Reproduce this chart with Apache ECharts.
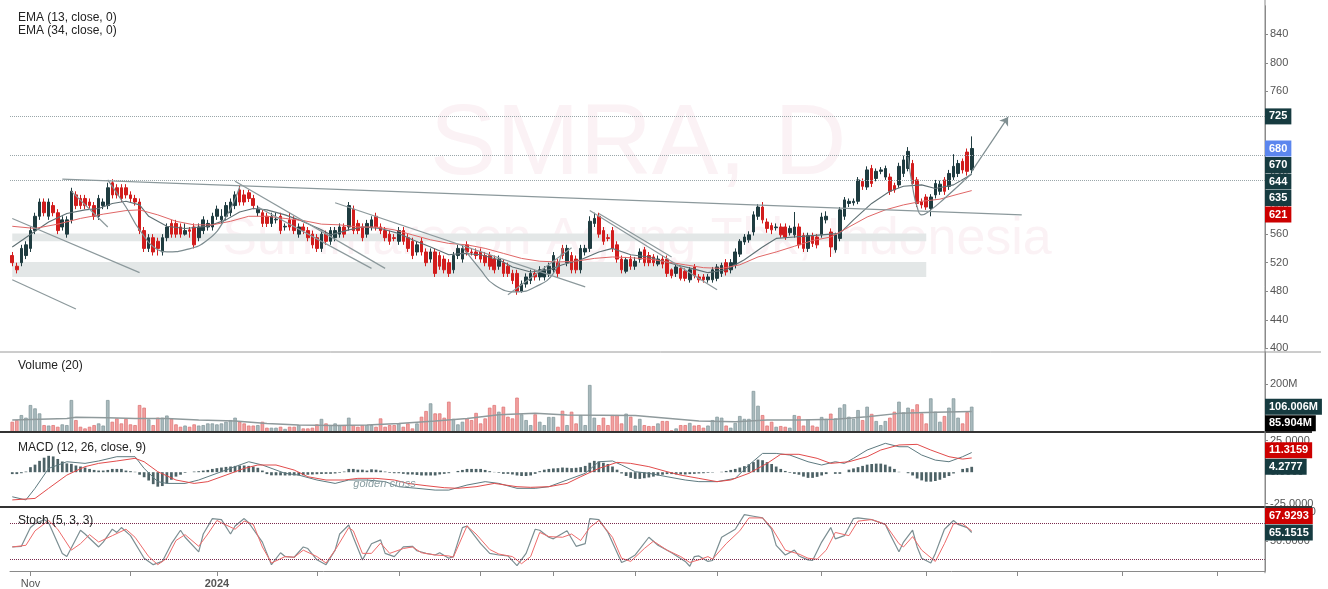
<!DOCTYPE html>
<html><head><meta charset="utf-8">
<script src="https://cdn.jsdelivr.net/npm/echarts@6.0.0/dist/echarts.min.js"></script>
<style>html,body{margin:0;padding:0;background:#fff}#c{width:1328px;height:589px}</style>
</head><body><div id="c"></div>
<script>
// ---------- DATA ----------
// daily candles: [open, close, low, high]
const candles = [
[530,520,515,535],[515,510,505,520],[520,540,515,545],[530,545,525,550],[540,565,535,570],
[565,585,560,590],[585,605,580,610],[605,590,585,610],[585,605,580,610],[600,590,585,605],
[590,565,560,595],[570,580,565,585],[560,580,555,585],[580,620,575,625],[615,600,595,620],
[610,600,595,615],[610,600,595,615],[605,600,595,610],[600,585,580,605],[585,610,580,615],
[600,605,595,610],[600,625,595,632],[632,615,610,637],[625,615,610,630],[625,610,605,630],
[625,615,610,630],[615,610,605,620],[610,605,600,615],[605,565,560,610],[565,540,535,570],
[540,555,535,560],[555,535,530,560],[550,540,530,555],[535,555,530,560],[555,570,550,575],
[575,560,555,580],[575,560,555,580],[570,560,555,575],[560,565,558,575],[566,564,555,570],
[570,545,540,575],[555,570,550,575],[565,580,560,585],[570,575,565,580],[570,585,565,590],
[585,595,580,600],[580,585,575,595],[585,600,580,605],[590,605,585,610],[600,615,595,620],
[622,605,600,628],[615,605,600,622],[618,610,605,622],[610,600,595,615],[590,595,585,600],
[590,575,570,595],[585,575,570,590],[575,585,570,590],[580,581,575,590],[585,565,560,590],
[570,571,565,575],[580,570,565,590],[580,565,560,585],[560,570,555,575],[570,565,560,575],
[565,555,550,570],[560,545,540,565],[555,540,535,560],[540,560,535,565],[560,550,545,565],
[550,565,545,570],[555,565,550,570],[560,570,555,575],[570,560,555,575],[570,600,565,605],
[595,565,560,600],[575,565,560,580],[570,555,550,575],[560,575,555,580],[570,580,565,585],
[585,570,565,590],[570,565,560,575],[565,555,550,570],[560,550,545,565],[555,554,550,560],
[550,565,545,570],[565,550,545,570],[555,540,535,560],[550,530,525,555],[535,545,530,550],
[550,535,530,555],[535,520,515,540],[525,535,520,540],[535,505,500,540],[530,515,510,535],
[525,510,505,530],[520,505,500,525],[510,530,505,535],[530,540,525,545],[525,540,520,545],
[545,535,530,550],[535,534,530,540],[535,530,525,540],[535,525,520,540],[530,520,515,535],
[530,515,510,535],[525,510,505,530],[515,525,510,530],[520,505,500,525],[515,505,500,520],
[505,495,490,510],[505,480,475,510],[480,490,478,495],[490,500,485,505],[495,505,490,510],
[505,500,495,510],[500,510,495,515],[500,510,495,515],[505,515,500,520],[510,530,505,535],
[520,505,500,525],[540,530,525,545],[520,540,515,545],[530,510,505,535],[525,510,505,530],
[510,540,505,545],[535,540,530,545],[540,578,535,585],[575,582,570,590],[585,560,555,590],
[565,550,545,570],[555,554,550,560],[565,540,535,570],[545,525,520,550],[525,510,505,530],
[508,524,505,528],[525,515,510,530],[515,522,510,528],[525,535,520,540],[538,520,515,542],
[530,520,515,535],[528,520,515,532],[518,525,515,530],[525,518,512,530],[525,505,500,530],
[510,502,498,512],[505,514,500,518],[512,498,495,515],[508,498,494,512],[496,510,492,514],
[514,502,498,518],[500,496,492,504],[500,496,492,504],[496,500,492,504],[496,510,492,514],
[498,514,494,518],[505,516,500,520],[520,507,502,525],[510,520,505,525],[517,535,512,540],
[532,550,528,553],[549,556,545,560],[552,559,548,564],[563,587,558,592],[585,598,580,602],
[598,580,575,605],[577,568,562,582],[572,566,560,576],[569,570,565,575],[570,559,555,575],
[570,556,552,575],[562,568,558,572],[559,570,555,591],[570,545,540,575],[558,540,535,562],
[540,558,535,562],[558,547,542,562],[556,545,540,560],[559,584,555,590],[580,585,575,592],
[563,542,528,568],[538,559,534,562],[554,594,550,598],[585,608,580,612],[603,606,598,610],
[604,606,600,610],[606,636,602,640],[634,627,622,638],[626,650,622,655],[652,631,626,657],
[638,648,634,652],[648,650,644,654],[640,652,636,656],[640,620,615,645],[628,622,618,632],
[629,655,625,660],[645,664,640,670],[652,676,648,682],[659,631,625,664],[636,603,598,640],
[605,601,596,610],[612,598,594,616],[596,612,585,616],[615,631,610,636],[620,630,615,635],
[636,620,615,640],[627,645,622,650],[640,655,636,672],[645,659,640,664],[662,650,645,666],
[675,648,642,680],[650,680,645,697]
];
// volume in millions
const volumes = [
43,50,71,60,113,99,78,29,27,29, 22,32,29,134,50,22,15,22,29,36,
27,134,43,57,36,55,32,29,113,102, 53,29,60,60,69,55,32,22,27,22,
32,27,29,36,36,32,36,43,50,60, 43,36,27,27,29,43,18,18,18,22,
13,22,22,29,15,15,18,32,55,36, 29,36,29,29,60,29,22,29,29,29,
22,57,22,29,29,36,22,36,15,36, 64,88,120,78,78,60,127,55,32,43,
57,50,80,36,57,102,113,85,
106,64,57,144,74,50,29,74,43,29, 63,63,22,89,29,85,36,71,29,197,
60,29,60,29,71,71,36,77,64,27, 55,29,25,25,36,46,46,7,15,29,
29,38,27,29,18,27,50,64,60,27, 18,38,67,55,55,172,110,71,27,43,
22,25,22,18,71,67,27,53,27,22, 63,55,77,57,102,116,64,55,92,50,
106,76,46,29,46,60,85,127,82,102, 95,116,78,36,141,85,43,67,102,141,
60,36,83,106.006
];
// [barIndex, value] points
const ema13 = [[0,542],[5,564],[8,577],[12,589],[16,594],[19,596],[22,603],[25,606],[28,601],[30,585],[34,571],[38,568],[43,571],[47,580],[50,591],[53,596],[56,594],[60,587],[63,580],[68,566],[70,559],[74,566],[77,570],[81,568],[85,561],[88,552],[92,542],[96,531],[99,533],[103,531],[107,524],[110,514],[114,507],[118,510],[121,517],[125,524],[129,535],[132,540],[136,531],[140,528],[142,524],[146,517],[150,511],[153,506],[157,510],[161,524],[165,542],[168,554],[172,556],[178,559],[182,561],[185,580],[189,603],[193,620],[196,627],[200,629],[203,624],[207,629],[211,644]];
const ema34 = [[0,571],[5,568],[10,574],[15,582],[20,588],[25,593],[28,594],[32,587],[36,578],[40,573],[44,573],[48,578],[52,585],[56,585],[60,582],[64,579],[68,574],[72,573],[76,570],[80,570],[84,566],[88,559],[92,552],[96,547],[100,545],[104,540],[108,533],[112,526],[116,522],[120,521],[124,522],[128,526],[132,528],[136,527],[140,525],[144,521],[148,517],[152,513],[156,512],[160,517],[164,528],[168,535],[172,543],[176,551],[180,556],[184,570],[188,584],[192,594],[196,601],[200,606],[204,609],[208,616],[211,621]];
const volMA = [[0,50],[12,57],[14,62],[21,60],[27,57],[34,57],[41,50],[49,46],[56,36],[63,29],[71,27],[78,29],[85,36],[93,46],[100,57],[107,72],[115,78],[122,71],[137,69],[151,46],[159,43],[166,50],[173,50],[181,53],[188,64],[195,78],[203,83],[211,85.904]];
const macdLine = [[0,-19.5],[3,-22],[5,-12.8],[8,3],[12,8.3],[16,7],[19,8.9],[23,12.3],[27,12.3],[29,3],[32,-7.5],[34,-8.9],[38,-8.9],[41,-6.2],[45,-0.9],[49,4.4],[52,8.3],[55,5.7],[60,-0.9],[63,-2.3],[67,-6.2],[71,-8.9],[74,-6.2],[78,-6.2],[82,-7.5],[85,-11.5],[89,-12.8],[93,-14.2],[96,-14.2],[100,-10.2],[104,-7.5],[107,-8.9],[111,-12.8],[115,-12.8],[118,-11.5],[122,-6.2],[126,-0.9],[129,8.3],[132,8.9],[134,5.7],[137,0.4],[140,-0.9],[144,-3.6],[148,-6.2],[151,-7.5],[155,-7.5],[159,-4.9],[162,5.7],[165,14.9],[168,14.9],[171,13.6],[175,8.3],[178,5.7],[181,8.3],[183,7],[185,11],[188,17.6],[192,22.9],[195,20.2],[197,20.2],[200,13.6],[203,9.6],[206,8.3],[209,12.3],[211,15.6]];
const macdSignal = [[0,-22],[5,-20.8],[8,-12.8],[12,-2.3],[16,4.4],[19,7],[23,8.9],[27,11],[29,8.3],[32,0.4],[36,-6.2],[40,-8.9],[43,-7.5],[47,-2.3],[51,3],[54,5.7],[58,5.7],[62,1.7],[65,-3.6],[69,-6.2],[73,-6.2],[76,-4.9],[80,-4.9],[84,-6.2],[87,-8.9],[91,-10.7],[95,-12.3],[98,-12.8],[102,-11.5],[106,-8.9],[111,-11.5],[114,-12],[118,-11.5],[122,-8.9],[125,-3.6],[129,3],[133,7.8],[136,7],[140,4.4],[144,0.4],[147,-2.3],[151,-4.9],[155,-7.5],[158,-6.2],[162,-0.9],[166,7],[169,14.2],[173,14.2],[177,11],[180,7],[184,8.3],[188,12.3],[191,17.6],[195,21.6],[199,22.1],[202,17.6],[206,12.3],[209,10.4],[211,11.3159]];
const macdHist = [
-1.5,-1.5,-0.8,0.5,4,6,9,11.5,13,12.5, 10.5,8.5,7,6.6,5.3,4.5,3.7,2.6,1.8,1.3,
1.3,1.8,2.6,2.6,2.6,1.3,0.8,0.3,-2,-4, -6.6,-9.5,-11.5,-11,-9,-6,-3.5,-2,-0.5,0,
0.5,0.8,1.3,1.8,2.6,3.2,3.7,4.2,4.5,5, 5.3,5.3,5,4.5,3.5,1.3,-1.5,-2.5,-2.5,-2.5,
-2.6,-2.6,-2.6,-2.6,-2.4,-2,-1.8,-1.6,-1.4,-1.3, -1.3,-1,-0.5,0.5,2.6,2.6,2,2,1.3,2.3,
2,1.3,0.5,-0.5,-0.8,-0.8,-1.3,-1.8,-1.8,-2.2, -2.6,-2.6,-2.6,-2.6,-1.8,-1.3,-0.8,0,1,1.8,
2.6,2.6,2.6,2.6,1.8,0.8,0.2,-0.5,-1.3,-1.3, -1.8,-2.6,-3,-3,-2.6,-1.3,0.8,2,2.6,3,
3.2,3.7,3.5,3.2,3.5,4,5,7.5,9,8.5, 7.5,6.5,4.5,2,-1,-3,-4.5,-5.3,-5.3,-4.8,
-4.2,-3.5,-2.6,-2,-1.5,-1.5,-1.8,-1.8,-1.8,-1.5, -1.3,-1,-0.8,-0.5,-0.3,0,0.3,1,1.8,2.6,
3.7,4.8,6.3,8,10,9.5,8,6.5,4.5,2.6, 1,-0.5,-1.3,-2,-3.5,-4.5,-4.5,-3.7,-2.6,-1.5,
0,-1.3,-1.3,0,2,3,4,5,6,6.5, 6.8,6.8,6,4.5,2.6,0.3,0,-0.8,-2.6,-5,
-6.5,-7.5,-7.5,-7,-6,-4.5,-3,-1,0,2.6, 3.2,4.2777
];
const stochK = [[0,40.7],[2,41.8],[4,73.5],[5,80],[7,87],[8,81.6],[11,29.8],[12,24.4],[15,69],[16,62.6],[19,40.7],[20,49],[22,70.7],[23,65.3],[24,73.5],[26,59.8],[29,21.6],[31,10.7],[33,16.2],[35,46.2],[37,69],[38,57.1],[41,32.5],[42,62.6],[44,88.7],[46,87],[48,62.6],[49,76.2],[51,88.7],[52,81.6],[55,48.9],[57,10.7],[59,30.9],[60,24.4],[62,23.3],[64,40.7],[65,38],[67,18.9],[69,10.7],[71,35.3],[72,62.6],[74,77.8],[75,57.1],[77,18.9],[79,46.2],[81,52.7],[82,29.8],[84,24.4],[86,40.7],[88,41.8],[89,34.2],[91,29.8],[93,27.1],[94,30.9],[96,21.6],[97,24.4],[99,73.5],[100,76.2],[103,46.2],[105,29.8],[107,27.1],[109,25.5],[111,9.1],[113,29.8],[115,70.7],[116,69],[118,57.1],[119,54.4],[122,68],[124,41.8],[126,46.2],[127,88.7],[129,87],[131,65.3],[134,14.5],[135,17.8],[137,27.1],[140,57.1],[142,43.5],[145,30.9],[148,16.2],[149,8],[150,24.4],[151,25.5],[153,16.2],[154,17.8],[156,57.1],[159,70.7],[161,95.3],[163,92.6],[165,89.8],[167,70.7],[168,43.5],[170,27.1],[172,35.3],[173,25.5],[175,18.9],[176,17.8],[178,48.9],[180,73.5],[181,54.4],[183,59.8],[185,88.7],[186,89.8],[189,87],[192,78.9],[193,62.6],[195,32.5],[196,48.9],[198,69],[199,40.7],[200,21.6],[202,13.5],[203,29.8],[205,70.7],[207,85.5],[208,78.9],[210,73.5],[211,65.1515]];
const stochD = [[0,40.7],[3,43.5],[5,68],[8,85.5],[10,70.7],[13,35.3],[15,46.2],[17,61.5],[19,49],[22,59.8],[25,70.7],[27,57.1],[30,24.4],[32,10.7],[34,21.6],[36,51.6],[38,61.5],[41,41.8],[43,62.6],[45,85.5],[46,81.6],[49,70.7],[51,84.4],[53,78.9],[55,40.7],[57,13.5],[60,24.4],[62,23.3],[64,35.3],[67,24.4],[69,13.5],[71,35.3],[74,73.5],[75,68],[77,29.8],[79,29.8],[81,47.3],[83,29.8],[86,38],[88,40.7],[90,30.9],[93,27.1],[96,25.5],[97,23.3],[100,76.2],[102,62.6],[105,36.4],[107,28.7],[110,24.4],[112,12.4],[114,24.4],[116,65.3],[118,58.2],[121,57.1],[123,62.6],[125,51.6],[127,73.5],[129,85.5],[132,57.1],[134,21.6],[136,16.2],[139,38],[141,50.5],[144,35.3],[147,24.4],[149,14.5],[151,18.9],[153,24.4],[154,20],[157,46.2],[160,68],[162,89.8],[165,89.8],[167,73.5],[170,35.3],[173,28.7],[175,21.6],[177,20],[179,35.3],[181,65.3],[184,59.8],[186,84.4],[189,87],[192,78.9],[195,46.2],[196,40.7],[198,58.2],[200,35.3],[203,16.2],[205,46.2],[207,80],[209,80],[211,67.9293]];
// chart drawings, in [barIndex, price]
const trendLines = [
  [[11,637],[222,587]], [[0,582],[28,506]], [[0,496],[14,455]], [[13,620],[21,570]],
  [[49,634],[82,512]], [[54,598],[79,512]], [[71,604],[126,486]], [[109,475],[123,541]],
  [[127,593],[155,482]], [[129,589],[145,528]]
];
const arrowLine = [[211,648],[219,724]];
const arcs = [
  [[21,636],[25,598],[28,566],[32,538],[34,535],[38,538],[43,552],[47,584],[50,626]],
  [[99,542],[103,510],[106,489],[111,479],[115,486],[119,505],[121,540]],
  [[197,668],[198,626],[199,598],[200,587],[202,594],[205,610],[211,645]]
];
const zones = [[0,201,550,561],[0,201,500,521]]; // [fromBar, toBar, low, high]
const levels = [725,670,635];
const stochLevels = [80,20];
// time axis
const SLOTS = 276;
const categories = Array.from({length:SLOTS},(_,i)=>String(i));
const monthTicks = [4,26,45,67,85,103,119,137,155,178,201,221,244,265];
const monthLabels = {4:'Nov',45:'2024'};
const yearLabels = ['2024'];

// ---------- CHART ----------
const FONT = '"Liberation Sans", Arial, sans-serif';
const BULL = '#1f3c40', BEAR = '#d21d1d';
const AX = '#8a8a8a', LBL = '#555';
const grids = [
  {left:10,right:63,top:5.8,height:342.5},
  {left:10,right:63,top:352,height:80},
  {left:10,right:63,top:432,height:71.7},
  {left:10,right:63,top:507,height:66.2}
];
const chart = echarts.init(document.getElementById('c'));
const isUp = i => candles[i][1] >= candles[i][0];
const volData = volumes.map((v,i)=>({value:v,itemStyle: isUp(i)?{color:'#a9babd',borderColor:'#869a9e',borderWidth:0.8}:{color:'#f2a0a0',borderColor:'#e07878',borderWidth:0.8}}));

function yAx(k, o){
  return Object.assign({type:'value',gridIndex:k,position:'right',
    axisLine:{show:true,lineStyle:{color:AX}},axisTick:{show:true,length:3,lineStyle:{color:AX}},
    splitLine:{show:false}}, o);
}
const lbl = (o)=>Object.assign({color:LBL,fontSize:11,fontFamily:FONT,margin:5},o);

const lineS = (xi, data, color, w, extra) => Object.assign({type:'line',xAxisIndex:xi,yAxisIndex:xi,data,showSymbol:false,symbol:'none',
  silent:true,lineStyle:{color,width:w},z:3}, extra||{});

const series = [
  {type:'candlestick',xAxisIndex:0,yAxisIndex:0,data:candles,barWidth:'68%',silent:true,
   itemStyle:{color:BULL,color0:BEAR,borderColor:BULL,borderColor0:BEAR,borderWidth:1},
   markArea:{silent:true,itemStyle:{color:'#e3e7e7'},data:zones.map(z=>[{coord:[z[0],z[2]]},{coord:[z[1],z[3]]}])},
   markLine:{silent:true,symbol:'none',label:{show:false},animation:false,
     lineStyle:{color:'#9aa6a9',type:'dotted',width:1},
     data: levels.map(v=>({yAxis:v})).concat(
       trendLines.map(t=>[{coord:t[0],lineStyle:{type:'solid',color:'#8c999c',width:1.2}},{coord:t[1]}]),
       [[{coord:arrowLine[0],symbol:'none',lineStyle:{type:'solid',color:'#7f8e91',width:1.2}},{coord:arrowLine[1],symbol:'arrow',symbolSize:8}]]
     )}
  },
  lineS(0, ema13, '#5f7074', 1.1),
  lineS(0, ema34, '#e06767', 1),
  ...arcs.map(a=>lineS(0, a, '#7d8c90', 1.2, {smooth:0.5})),
  {type:'bar',xAxisIndex:1,yAxisIndex:1,data:volData,barWidth:'78%',silent:true},
  lineS(1, volMA, '#8f9a9c', 1.5),
  {type:'bar',xAxisIndex:2,yAxisIndex:2,data:macdHist,barWidth:'60%',silent:true,itemStyle:{color:'#4d6266'}},
  lineS(2, macdLine, '#5e7a80', 1),
  lineS(2, macdSignal, '#e24c4c', 1),
  lineS(3, stochK, '#7b8e92', 1.2, {markLine:{silent:true,symbol:'none',label:{show:false},
     lineStyle:{color:'#7a2a4c',type:'dotted',width:1},data:stochLevels.map(v=>({yAxis:v}))}}),
  lineS(3, stochD, '#ee6b6b', 1)
];

chart.setOption({
  animation:false,
  backgroundColor:'#fff',
  grid:grids,
  xAxis: grids.map((g,k)=>({type:'category',gridIndex:k,data:categories,boundaryGap:true,
    axisLine:{show:k===3,lineStyle:{color:AX}},
    axisTick:{show:k===3,alignWithLabel:true,length:5,interval:(idx)=>monthTicks.includes(idx),lineStyle:{color:AX}},
    axisLabel:{show:k===3,interval:(idx)=>monthLabels[idx]!==undefined,color:LBL,fontSize:11,fontFamily:FONT,margin:7,
      formatter:(v,idx)=>{const s=monthLabels[idx]||''; return yearLabels.includes(s)?'{b|'+s+'}':s;},
      rich:{b:{fontWeight:'bold',fontSize:11,color:LBL,fontFamily:FONT}}},
    splitLine:{show:false}})),
  yAxis:[
    yAx(0,{min:400,max:880,interval:40,axisLabel:lbl({showMaxLabel:false})}),
    yAx(1,{min:0,max:335,interval:200,axisLabel:lbl({showMinLabel:false,showMaxLabel:false,formatter:v=>v+'M'})}),
    yAx(2,{min:-25,max:31.9,interval:25,axisLabel:lbl({showMaxLabel:false,formatter:v=>v.toFixed(4)})}),
    yAx(3,{min:0,max:108.3,interval:50,axisLabel:lbl({showMinLabel:false,showMaxLabel:false,formatter:v=>v.toFixed(4)})})
  ],
  series
});

// ---------- overlays: titles, watermark, separators, value tags ----------
const last = a => a[a.length-1][1];
const lastClose = candles[candles.length-1][1];
const TEAL = '#163b40';
const tagGroups = [
  {axis:0, tags:[{v:levels[0],bg:TEAL},{v:lastClose,bg:'#5b86ee',anchor:true},{v:levels[1],bg:TEAL},{v:last(ema13),bg:TEAL},{v:levels[2],bg:TEAL},{v:last(ema34),bg:'#cc0000'}], fmt:v=>String(v)},
  {axis:1, tags:[{v:volumes[volumes.length-1],bg:TEAL,anchor:true},{v:last(volMA),bg:'#000'}], fmt:v=>v.toFixed(3)+'M'},
  {axis:2, tags:[{v:last(macdSignal),bg:'#cc0000'},{v:macdHist[macdHist.length-1],bg:TEAL,anchor:true}], fmt:v=>v.toFixed(4)},
  {axis:3, tags:[{v:last(stochD),bg:'#cc0000'},{v:last(stochK),bg:TEAL,anchor:true}], fmt:v=>v.toFixed(4)}
];
const H = 16.5;
const elements = [];
const axisX = chart.convertToPixel({xAxisIndex:0}, SLOTS-1) + (1328-63-10)/SLOTS/2;
tagGroups.forEach(g=>{
  const ts = g.tags.map(t=>Object.assign({},t,{y:chart.convertToPixel({yAxisIndex:g.axis},t.v)}));
  ts.sort((a,b)=>a.y-b.y);
  const a = ts.findIndex(t=>t.anchor);
  for(let j=a+1;j<ts.length;j++) ts[j].y=Math.max(ts[j].y,ts[j-1].y+H);
  for(let j=a-1;j>=0;j--) ts[j].y=Math.min(ts[j].y,ts[j+1].y-H);
  ts.forEach(t=>elements.push({type:'text',x:axisX,y:t.y,z:100,
    style:{text:g.fmt(t.v),fill:'#fff',font:'bold 11px '+FONT,backgroundColor:t.bg,padding:[3,4,2,4],align:'left',verticalAlign:'middle'}}));
});
// titles
[['EMA (13, close, 0)',18],['EMA (34, close, 0)',31],['Volume (20)',366],['MACD (12, 26, close, 9)',448],['Stoch (5, 3, 3)',521]].forEach(t=>{
  elements.push({type:'text',x:18,y:t[1],z:90,style:{text:t[0],fill:'#222',font:'12px '+FONT,align:'left',verticalAlign:'middle'}});
});
// watermark
elements.push({type:'text',x:638,y:146,z:-10,style:{text:'SMRA, D',fill:'rgba(215,110,140,0.09)',font:'100px '+FONT,align:'center',verticalAlign:'middle'}});
elements.push({type:'text',x:637,y:240,z:-10,style:{text:'Summarecon Agung Tbk, Indonesia',fill:'rgba(215,110,140,0.09)',font:'52px '+FONT,align:'center',verticalAlign:'middle'}});
// golden cross note on MACD pane
const gc = chart.convertToPixel({xAxisIndex:2,yAxisIndex:2},[75,-9.4]);
elements.push({type:'text',x:gc[0],y:gc[1],z:90,style:{text:'golden cross',fill:'#8a9ea2',font:'italic 11px '+FONT,align:'left',verticalAlign:'middle'}});
// pane separators & price scale line
const sep = (y,c,w,x2)=>elements.push({type:'line',z:80,shape:{x1:0,y1:y,x2:x2,y2:y},style:{stroke:c,lineWidth:w}});
sep(352,'#9a9a9a',1,1321);
sep(432,'#333',2,1312);
sep(507,'#333',2,1312);
elements.push({type:'line',z:80,shape:{x1:axisX,y1:0,x2:axisX,y2:grids[3].top+grids[3].height},style:{stroke:AX,lineWidth:1}});
chart.setOption({graphic:{elements}});
</script>
</body></html>
